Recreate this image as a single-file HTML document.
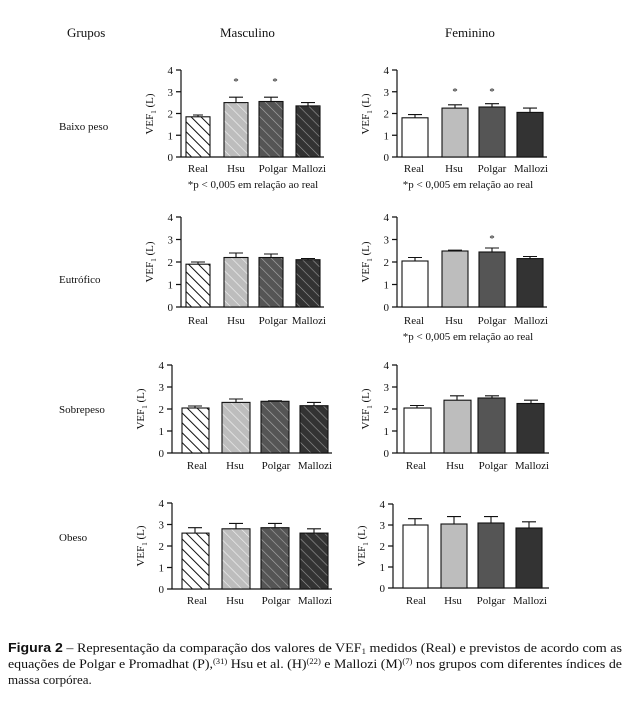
<!DOCTYPE html>
<html><head><meta charset="utf-8"><style>
body{margin:0;background:#fff;}
svg{display:block;font-family:"Liberation Serif",serif;}
.t{font-size:11px;fill:#111;}
.h{font-size:13px;fill:#111;}
</style></head><body>
<svg width="642" height="701" viewBox="0 0 642 701" xmlns="http://www.w3.org/2000/svg">
<defs>
<pattern id="p0" width="7" height="7" patternUnits="userSpaceOnUse" patternTransform="rotate(-45)"><rect width="7" height="7" fill="#fff"/><line x1="0" y1="0" x2="0" y2="7" stroke="#111" stroke-width="2"/></pattern>
<pattern id="p1" width="7" height="7" patternUnits="userSpaceOnUse" patternTransform="rotate(-45)"><rect width="7" height="7" fill="#bdbdbd"/><line x1="0" y1="0" x2="0" y2="7" stroke="#f4f4f4" stroke-width="1.2"/></pattern>
<pattern id="p2" width="7" height="7" patternUnits="userSpaceOnUse" patternTransform="rotate(-45)"><rect width="7" height="7" fill="#555"/><line x1="0" y1="0" x2="0" y2="7" stroke="#aaa" stroke-width="1.2"/></pattern>
<pattern id="p3" width="7" height="7" patternUnits="userSpaceOnUse" patternTransform="rotate(-45)"><rect width="7" height="7" fill="#333"/><line x1="0" y1="0" x2="0" y2="7" stroke="#999" stroke-width="1.2"/></pattern>
</defs>
<text class="h" x="67" y="37">Grupos</text>
<text class="h" x="220" y="37">Masculino</text>
<text class="h" x="445" y="37">Feminino</text>
<text class="t" x="59" y="130">Baixo peso</text>
<text class="t" x="59" y="283">Eutrófico</text>
<text class="t" x="59" y="413">Sobrepeso</text>
<text class="t" x="59" y="541">Obeso</text>

<!-- Row 1 Masc -->
<g transform="translate(181,157)">
<path d="M0,0V-87M0,0H-5M0,-21.75H-5M0,-43.5H-5M0,-65.25H-5M0,-87H-5M0,0H143" stroke="#111" stroke-width="1.2" fill="none"/>
<g class="t" text-anchor="end"><text x="-8" y="4">0</text><text x="-8" y="-17.75">1</text><text x="-8" y="-39.5">2</text><text x="-8" y="-61.25">3</text><text x="-8" y="-83">4</text></g>
<text class="t" transform="translate(-28,-43) rotate(-90)" text-anchor="middle">VEF<tspan font-size="7" dy="3">1</tspan><tspan dy="-3"> (L)</tspan></text>
<g stroke="#111" stroke-width="1.1" fill="none">
<path d="M17,-40.2V-42M12,-42H22"/><path d="M55,-54.4V-59.8M48,-59.8H62"/><path d="M90,-55.5V-59.8M83,-59.8H97"/><path d="M127,-51.1V-54.4M120,-54.4H134"/>
</g>
<g stroke="#111" stroke-width="1.1">
<rect x="5" y="-40.2" width="24" height="40.2" fill="url(#p0)"/>
<rect x="43" y="-54.4" width="24" height="54.4" fill="url(#p1)"/>
<rect x="78" y="-55.5" width="24" height="55.5" fill="url(#p2)"/>
<rect x="115" y="-51.1" width="24" height="51.1" fill="url(#p3)"/>
</g>
<text class="t" x="55" y="-72" text-anchor="middle">*</text><text class="t" x="94" y="-72" text-anchor="middle">*</text>
<g class="t" text-anchor="middle"><text x="17" y="15">Real</text><text x="55" y="15">Hsu</text><text x="92" y="15">Polgar</text><text x="128" y="15">Mallozi</text></g>
<text class="t" x="72" y="31" text-anchor="middle">*p &lt; 0,005 em relação ao real</text>
</g>

<!-- Row 1 Fem -->
<g transform="translate(397,157)">
<path d="M0,0V-87M0,0H-5M0,-21.75H-5M0,-43.5H-5M0,-65.25H-5M0,-87H-5M0,0H150" stroke="#111" stroke-width="1.2" fill="none"/>
<g class="t" text-anchor="end"><text x="-8" y="4">0</text><text x="-8" y="-17.75">1</text><text x="-8" y="-39.5">2</text><text x="-8" y="-61.25">3</text><text x="-8" y="-83">4</text></g>
<text class="t" transform="translate(-28,-43) rotate(-90)" text-anchor="middle">VEF<tspan font-size="7" dy="3">1</tspan><tspan dy="-3"> (L)</tspan></text>
<g stroke="#111" stroke-width="1.1" fill="none">
<path d="M18,-39.2V-42.4M11,-42.4H25"/><path d="M58,-48.9V-52.2M51,-52.2H65"/><path d="M95,-50V-53.3M88,-53.3H102"/><path d="M133,-44.6V-48.9M126,-48.9H140"/>
</g>
<g stroke="#111" stroke-width="1.1">
<rect x="5" y="-39.2" width="26" height="39.2" fill="#fff"/>
<rect x="45" y="-48.9" width="26" height="48.9" fill="#bdbdbd"/>
<rect x="82" y="-50" width="26" height="50" fill="#555"/>
<rect x="120" y="-44.6" width="26" height="44.6" fill="#333"/>
</g>
<text class="t" x="58" y="-62" text-anchor="middle">*</text><text class="t" x="95" y="-62" text-anchor="middle">*</text>
<g class="t" text-anchor="middle"><text x="17" y="15">Real</text><text x="57" y="15">Hsu</text><text x="95" y="15">Polgar</text><text x="134" y="15">Mallozi</text></g>
<text class="t" x="71" y="31" text-anchor="middle">*p &lt; 0,005 em relação ao real</text>
</g>

<!-- Row 2 Masc -->
<g transform="translate(181,307)">
<path d="M0,0V-90M0,0H-5M0,-22.5H-5M0,-45H-5M0,-67.5H-5M0,-90H-5M0,0H143" stroke="#111" stroke-width="1.2" fill="none"/>
<g class="t" text-anchor="end"><text x="-8" y="4">0</text><text x="-8" y="-18.5">1</text><text x="-8" y="-41">2</text><text x="-8" y="-63.5">3</text><text x="-8" y="-86">4</text></g>
<text class="t" transform="translate(-28,-45) rotate(-90)" text-anchor="middle">VEF<tspan font-size="7" dy="3">1</tspan><tspan dy="-3"> (L)</tspan></text>
<g stroke="#111" stroke-width="1.1" fill="none">
<path d="M17,-42.8V-45M10,-45H24"/><path d="M55,-49.5V-54M48,-54H62"/><path d="M90,-49.5V-53M83,-53H97"/><path d="M127,-47.3V-48.5M120,-48.5H134"/>
</g>
<g stroke="#111" stroke-width="1.1">
<rect x="5" y="-42.8" width="24" height="42.8" fill="url(#p0)"/>
<rect x="43" y="-49.5" width="24" height="49.5" fill="url(#p1)"/>
<rect x="78" y="-49.5" width="24" height="49.5" fill="url(#p2)"/>
<rect x="115" y="-47.3" width="24" height="47.3" fill="url(#p3)"/>
</g>
<g class="t" text-anchor="middle"><text x="17" y="17">Real</text><text x="55" y="17">Hsu</text><text x="92" y="17">Polgar</text><text x="128" y="17">Mallozi</text></g>
</g>

<!-- Row 2 Fem -->
<g transform="translate(397,307)">
<path d="M0,0V-90M0,0H-5M0,-22.5H-5M0,-45H-5M0,-67.5H-5M0,-90H-5M0,0H150" stroke="#111" stroke-width="1.2" fill="none"/>
<g class="t" text-anchor="end"><text x="-8" y="4">0</text><text x="-8" y="-18.5">1</text><text x="-8" y="-41">2</text><text x="-8" y="-63.5">3</text><text x="-8" y="-86">4</text></g>
<text class="t" transform="translate(-28,-45) rotate(-90)" text-anchor="middle">VEF<tspan font-size="7" dy="3">1</tspan><tspan dy="-3"> (L)</tspan></text>
<g stroke="#111" stroke-width="1.1" fill="none">
<path d="M18,-46V-49.5M11,-49.5H25"/><path d="M58,-56V-56.8M51,-56.8H65"/><path d="M95,-55V-59M88,-59H102"/><path d="M133,-48.4V-50.5M126,-50.5H140"/>
</g>
<g stroke="#111" stroke-width="1.1">
<rect x="5" y="-46" width="26" height="46" fill="#fff"/>
<rect x="45" y="-56" width="26" height="56" fill="#bdbdbd"/>
<rect x="82" y="-55" width="26" height="55" fill="#555"/>
<rect x="120" y="-48.4" width="26" height="48.4" fill="#333"/>
</g>
<text class="t" x="95" y="-65" text-anchor="middle">*</text>
<g class="t" text-anchor="middle"><text x="17" y="17">Real</text><text x="57" y="17">Hsu</text><text x="95" y="17">Polgar</text><text x="134" y="17">Mallozi</text></g>
<text class="t" x="71" y="33" text-anchor="middle">*p &lt; 0,005 em relação ao real</text>
</g>

<!-- Row 3 Masc -->
<g transform="translate(172,453)">
<path d="M0,0V-88M0,0H-5M0,-22H-5M0,-44H-5M0,-66H-5M0,-88H-5M0,0H160" stroke="#111" stroke-width="1.2" fill="none"/>
<g class="t" text-anchor="end"><text x="-8" y="4">0</text><text x="-8" y="-18">1</text><text x="-8" y="-40">2</text><text x="-8" y="-62">3</text><text x="-8" y="-84">4</text></g>
<text class="t" transform="translate(-28,-44) rotate(-90)" text-anchor="middle">VEF<tspan font-size="7" dy="3">1</tspan><tspan dy="-3"> (L)</tspan></text>
<g stroke="#111" stroke-width="1.1" fill="none">
<path d="M23,-45V-47M16,-47H30"/><path d="M64,-50.6V-54M57,-54H71"/><path d="M103,-51.7V-52.2M96,-52.2H110"/><path d="M142,-47.3V-50.6M135,-50.6H149"/>
</g>
<g stroke="#111" stroke-width="1.1">
<rect x="10" y="-45" width="27" height="45" fill="url(#p0)"/>
<rect x="50" y="-50.6" width="28" height="50.6" fill="url(#p1)"/>
<rect x="89" y="-51.7" width="28" height="51.7" fill="url(#p2)"/>
<rect x="128" y="-47.3" width="28" height="47.3" fill="url(#p3)"/>
</g>
<g class="t" text-anchor="middle"><text x="25" y="16">Real</text><text x="63" y="16">Hsu</text><text x="104" y="16">Polgar</text><text x="143" y="16">Mallozi</text></g>
</g>

<!-- Row 3 Fem -->
<g transform="translate(397,453)">
<path d="M0,0V-88M0,0H-5M0,-22H-5M0,-44H-5M0,-66H-5M0,-88H-5M0,0H152" stroke="#111" stroke-width="1.2" fill="none"/>
<g class="t" text-anchor="end"><text x="-8" y="4">0</text><text x="-8" y="-18">1</text><text x="-8" y="-40">2</text><text x="-8" y="-62">3</text><text x="-8" y="-84">4</text></g>
<text class="t" transform="translate(-28,-44) rotate(-90)" text-anchor="middle">VEF<tspan font-size="7" dy="3">1</tspan><tspan dy="-3"> (L)</tspan></text>
<g stroke="#111" stroke-width="1.1" fill="none">
<path d="M20,-45V-47.5M13,-47.5H27"/><path d="M60,-52.8V-57.2M53,-57.2H67"/><path d="M95,-55V-57.2M88,-57.2H102"/><path d="M134,-49.5V-52.8M127,-52.8H141"/>
</g>
<g stroke="#111" stroke-width="1.1">
<rect x="7" y="-45" width="27" height="45" fill="#fff"/>
<rect x="47" y="-52.8" width="27" height="52.8" fill="#bdbdbd"/>
<rect x="81" y="-55" width="27" height="55" fill="#555"/>
<rect x="120" y="-49.5" width="27" height="49.5" fill="#333"/>
</g>
<g class="t" text-anchor="middle"><text x="19" y="16">Real</text><text x="58" y="16">Hsu</text><text x="96" y="16">Polgar</text><text x="135" y="16">Mallozi</text></g>
</g>

<!-- Row 4 Masc -->
<g transform="translate(172,589)">
<path d="M0,0V-86M0,0H-5M0,-21.5H-5M0,-43H-5M0,-64.5H-5M0,-86H-5M0,0H160" stroke="#111" stroke-width="1.2" fill="none"/>
<g class="t" text-anchor="end"><text x="-8" y="4">0</text><text x="-8" y="-17.5">1</text><text x="-8" y="-39">2</text><text x="-8" y="-60.5">3</text><text x="-8" y="-82">4</text></g>
<text class="t" transform="translate(-28,-43) rotate(-90)" text-anchor="middle">VEF<tspan font-size="7" dy="3">1</tspan><tspan dy="-3"> (L)</tspan></text>
<g stroke="#111" stroke-width="1.1" fill="none">
<path d="M23,-55.9V-61.3M16,-61.3H30"/><path d="M64,-60.2V-65.6M57,-65.6H71"/><path d="M103,-61.3V-65.6M96,-65.6H110"/><path d="M142,-55.9V-60.2M135,-60.2H149"/>
</g>
<g stroke="#111" stroke-width="1.1">
<rect x="10" y="-55.9" width="27" height="55.9" fill="url(#p0)"/>
<rect x="50" y="-60.2" width="28" height="60.2" fill="url(#p1)"/>
<rect x="89" y="-61.3" width="28" height="61.3" fill="url(#p2)"/>
<rect x="128" y="-55.9" width="28" height="55.9" fill="url(#p3)"/>
</g>
<g class="t" text-anchor="middle"><text x="25" y="15">Real</text><text x="63" y="15">Hsu</text><text x="104" y="15">Polgar</text><text x="143" y="15">Mallozi</text></g>
</g>

<!-- Row 4 Fem -->
<g transform="translate(393,588)">
<path d="M0,0V-84M0,0H-5M0,-21H-5M0,-42H-5M0,-63H-5M0,-84H-5M0,0H156" stroke="#111" stroke-width="1.2" fill="none"/>
<g class="t" text-anchor="end"><text x="-8" y="4">0</text><text x="-8" y="-17">1</text><text x="-8" y="-38">2</text><text x="-8" y="-59">3</text><text x="-8" y="-80">4</text></g>
<text class="t" transform="translate(-28,-42) rotate(-90)" text-anchor="middle">VEF<tspan font-size="7" dy="3">1</tspan><tspan dy="-3"> (L)</tspan></text>
<g stroke="#111" stroke-width="1.1" fill="none">
<path d="M22,-63V-69.3M15,-69.3H29"/><path d="M61,-64V-71.4M54,-71.4H68"/><path d="M98,-65V-71.4M91,-71.4H105"/><path d="M136,-60V-66.2M129,-66.2H143"/>
</g>
<g stroke="#111" stroke-width="1.1">
<rect x="10" y="-63" width="25" height="63" fill="#fff"/>
<rect x="48" y="-64" width="26" height="64" fill="#bdbdbd"/>
<rect x="85" y="-65" width="26" height="65" fill="#555"/>
<rect x="123" y="-60" width="26" height="60" fill="#333"/>
</g>
<g class="t" text-anchor="middle"><text x="23" y="16">Real</text><text x="60" y="16">Hsu</text><text x="98" y="16">Polgar</text><text x="137" y="16">Mallozi</text></g>
</g>

<g font-size="13" fill="#111" font-family="Liberation Serif, serif">
<text x="8" y="652" textLength="614" lengthAdjust="spacingAndGlyphs"><tspan font-family="Liberation Sans,sans-serif" font-weight="bold">Figura 2</tspan> – Representação da comparação dos valores de VEF<tspan font-size="8" dy="2">1</tspan><tspan dy="-2"> medidos (Real) e previstos de acordo com as</tspan></text>
<text x="8" y="668" textLength="614" lengthAdjust="spacingAndGlyphs">equações de Polgar e Promadhat (P),<tspan font-size="8" dy="-4">(31)</tspan><tspan dy="4"> Hsu et al. (H)</tspan><tspan font-size="8" dy="-4">(22)</tspan><tspan dy="4"> e Mallozi (M)</tspan><tspan font-size="8" dy="-4">(7)</tspan><tspan dy="4"> nos grupos com diferentes índices de</tspan></text>
<text x="8" y="684">massa corpórea.</text>
</g>
</svg>
</body></html>
